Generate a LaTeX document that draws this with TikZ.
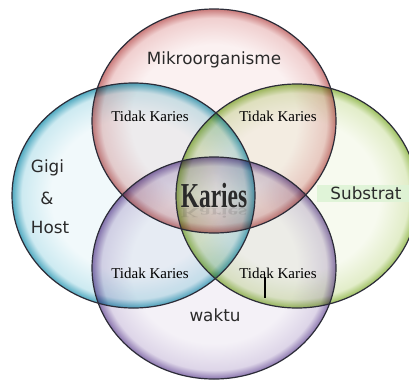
\documentclass[tikz,border=0pt]{standalone}
\usepackage{fontspec}
\setmainfont{Liberation Serif}
\newfontfamily\labelsans{DejaVu Sans}
\definecolor{redin}{HTML}{FBF1F1}
\definecolor{redmid}{HTML}{F0CFCF}
\definecolor{redout}{HTML}{C97A7A}
\definecolor{bluein}{HTML}{F1F9FB}
\definecolor{bluemid}{HTML}{CDEAF1}
\definecolor{blueout}{HTML}{4FA9C0}
\definecolor{greenin}{HTML}{F7FAEF}
\definecolor{greenmid}{HTML}{E2EDC9}
\definecolor{greenout}{HTML}{9CBF5E}
\definecolor{purpin}{HTML}{F4F1F7}
\definecolor{purpmid}{HTML}{DDD5E8}
\definecolor{purpout}{HTML}{8A74AE}
\definecolor{rimline}{HTML}{2C2C38}
\definecolor{txtgray}{HTML}{2A2A2A}
\definecolor{bandgreen}{HTML}{DDF3D5}
\pgfdeclareradialshading{bubred}{\pgfpoint{0bp}{0bp}}{color(0bp)=(redin); color(17bp)=(redin); color(23bp)=(redmid); color(25bp)=(redout); color(50bp)=(redout)}
\pgfdeclareradialshading{bubblue}{\pgfpoint{0bp}{0bp}}{color(0bp)=(bluein); color(17bp)=(bluein); color(23bp)=(bluemid); color(25bp)=(blueout); color(50bp)=(blueout)}
\pgfdeclareradialshading{bubgreen}{\pgfpoint{0bp}{0bp}}{color(0bp)=(greenin); color(17bp)=(greenin); color(23bp)=(greenmid); color(25bp)=(greenout); color(50bp)=(greenout)}
\pgfdeclareradialshading{bubpurp}{\pgfpoint{0bp}{0bp}}{color(0bp)=(purpin); color(17bp)=(purpin); color(23bp)=(purpmid); color(25bp)=(purpout); color(50bp)=(purpout)}
\tikzset{
  bubfill/.style={shading=#1, blend mode=multiply},
  rim/.style={draw=rimline, line width=1.2pt},
  sanslabel/.style={font=\labelsans\fontsize{16.8}{19}\selectfont, text=txtgray, inner sep=0pt},
  seriflabel/.style={font=\fontsize{15}{17}\selectfont, text=black, inner sep=0pt},
}
\begin{document}
\begin{tikzpicture}[x=1pt, y=-1pt]
\useasboundingbox (0,0) rectangle (409,381);
\clip (0,0) rectangle (409,381);
\fill[white] (0,0) rectangle (409,381);
% fills
\path[bubfill=bubred] (214,121) ellipse [x radius=122pt, y radius=112pt];
\path[bubfill=bubblue] (133.5,195.5) ellipse [x radius=121.5pt, y radius=112.5pt];
\path[bubfill=bubgreen] (297,196) ellipse [x radius=121pt, y radius=112pt];
\path[bubfill=bubpurp] (214,268) ellipse [x radius=122pt, y radius=111pt];
% substrat band
\fill[bandgreen, opacity=0.85] (317,185) rectangle (409,202);
% rims
\draw[rim] (214,121) ellipse [x radius=122pt, y radius=112pt];
\draw[rim] (133.5,195.5) ellipse [x radius=121.5pt, y radius=112.5pt];
\draw[rim] (297,196) ellipse [x radius=121pt, y radius=112pt];
\draw[rim] (214,268) ellipse [x radius=122pt, y radius=111pt];
% labels
\node[sanslabel] (mikro) at (214,60) {Mikroorganisme};
\node[sanslabel] (gigi) at (47.5,168) {Gigi};
\node[sanslabel] (amp) at (47,198) {\&};
\node[sanslabel] (host) at (50,227) {Host};
\node[sanslabel] (substrat) at (366,193) {Substrat};
\node[sanslabel] (waktu) at (215,315) {waktu};
\node[seriflabel] (tk1) at (150,116) {Tidak Karies};
\node[seriflabel] (tk2) at (278,116) {Tidak Karies};
\node[seriflabel] (tk3) at (150,273) {Tidak Karies};
\node[seriflabel] (tk4) at (278,273) {Tidak Karies};
% central Karies with faint reflection
\node[inner sep=0pt, anchor=base, text=black, opacity=0.1, yscale=-0.4, xscale=0.67, font=\bfseries\fontsize{35}{38}\selectfont] (karref) at (214,208) {Karies};
\node[inner sep=0pt, anchor=base, text=txtgray, xscale=0.67, font=\bfseries\fontsize{35}{38}\selectfont] (karies) at (214,207) {Karies};
% small mark
\coordinate (marktop) at (265,277);
\coordinate (markbot) at (265,298);
\draw[black, line width=1.4pt] (marktop) -- (markbot);
\end{tikzpicture}
\end{document}
